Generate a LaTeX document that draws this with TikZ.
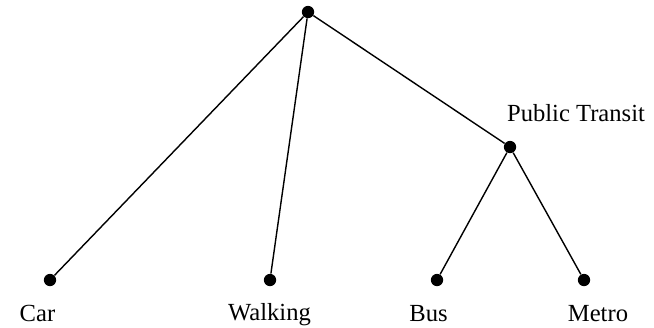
\documentclass[tikz,border=0pt]{standalone}
\usepackage{fontspec}
\setmainfont{Liberation Serif}
\usetikzlibrary{calc}

\tikzset{
  dot/.style={fill=black,shape=circle,minimum size=7pt,inner sep=0pt},
  leaf/.style={font=\fontsize{14}{16}\selectfont,inner sep=0pt}
}

\begin{document}
\begin{tikzpicture}
          \useasboundingbox (0,0) rectangle (13.08,6.54);
          \node[dot] (root) at (6.16,6.30){};
          \node[dot] (transit) at (10.20,3.60){};
          \node[dot] (car) at (1.00,0.94){};
          \node[dot] (walking) at (5.40,0.94){};
          \node[dot] (bus) at (8.74,0.94){};
          \node[dot] (metro) at (11.68,0.94){};
          \draw[line width=0.8pt] (root)--(car);
          \draw[line width=0.8pt] (root)--(walking);
          \draw[line width=0.8pt] (root)--(transit);
          \draw[line width=0.8pt] (transit)--(bus);
          \draw[line width=0.8pt] (transit)--(metro);
          \node[leaf] (carlabel) at (0.75,0.27){Car};
          \node[leaf] (walkinglabel) at (5.39,0.24){Walking};
          \node[leaf] (buslabel) at (8.57,0.27){Bus};
          \node[leaf] (metrolabel) at (11.96,0.27){Metro};
          \node[leaf] (transitlabel) at (11.52,4.28){Public Transit};
        \end{tikzpicture}
\end{document}
